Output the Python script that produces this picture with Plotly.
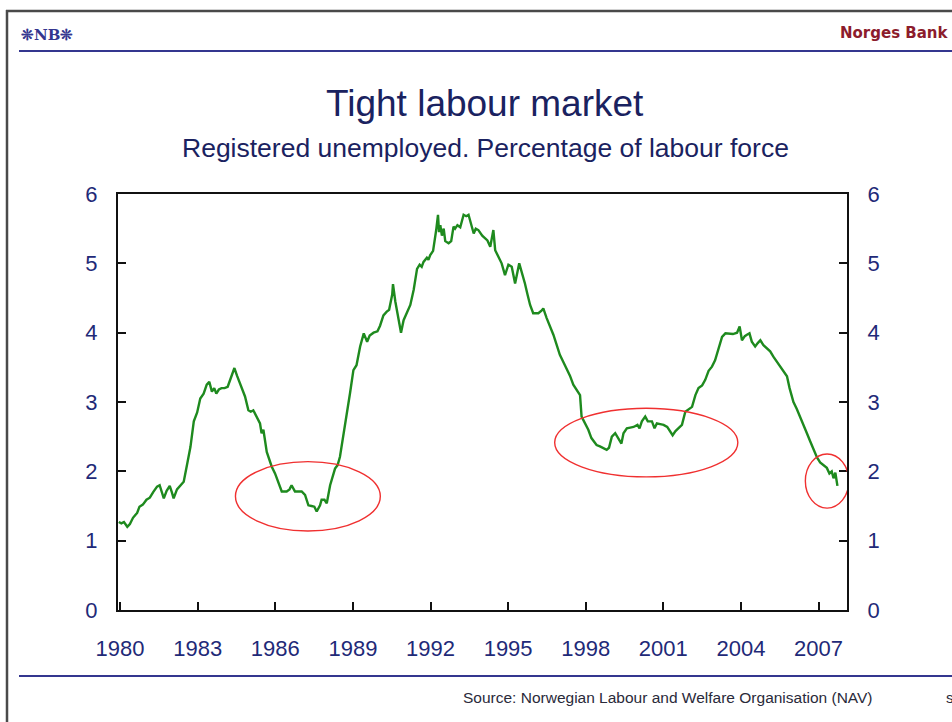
"""
Tight labour market: registered unemployed, share of labour force (Norway).
"""
import plotly.graph_objects as go

# ── data (decimal year, percent) ──────────────────────────────────────────────
YEARS = [
    1979.95, 1980.05, 1980.15, 1980.28, 1980.38, 1980.50, 1980.59, 1980.66, 1980.75, 1980.88,
    1981.02, 1981.15, 1981.28, 1981.43, 1981.53, 1981.62, 1981.69, 1981.80, 1981.92, 1982.00,
    1982.07, 1982.20, 1982.33, 1982.46, 1982.59, 1982.72, 1982.85, 1982.98, 1983.10, 1983.23,
    1983.35, 1983.45, 1983.55, 1983.64, 1983.72, 1983.82, 1983.92, 1984.04, 1984.16, 1984.28,
    1984.42, 1984.52, 1984.65, 1984.83, 1984.96, 1985.05, 1985.15, 1985.28, 1985.41, 1985.47,
    1985.54, 1985.67, 1985.86, 1985.99, 1986.12, 1986.25, 1986.44, 1986.55, 1986.63, 1986.76,
    1986.90, 1987.02, 1987.15, 1987.28, 1987.40, 1987.51, 1987.60, 1987.73, 1987.79, 1987.90,
    1987.99, 1988.12, 1988.31, 1988.41, 1988.50, 1988.63, 1988.76, 1988.89, 1989.02, 1989.14,
    1989.28, 1989.42, 1989.55, 1989.65, 1989.80, 1989.95, 1990.05, 1990.18, 1990.30, 1990.40,
    1990.52, 1990.55, 1990.64, 1990.77, 1990.86, 1990.96, 1991.09, 1991.22, 1991.35, 1991.48,
    1991.58, 1991.66, 1991.73, 1991.86, 1991.92, 1991.99, 1992.10, 1992.15, 1992.22, 1992.29,
    1992.33, 1992.38, 1992.44, 1992.51, 1992.57, 1992.70, 1992.80, 1992.89, 1992.95, 1993.04,
    1993.15, 1993.28, 1993.38, 1993.47, 1993.55, 1993.67, 1993.75, 1993.85, 1994.00, 1994.05,
    1994.20, 1994.31, 1994.43, 1994.50, 1994.62, 1994.75, 1994.88, 1995.01, 1995.14, 1995.27,
    1995.43, 1995.55, 1995.65, 1995.75, 1995.85, 1995.97, 1996.17, 1996.30, 1996.36, 1996.49,
    1996.62, 1996.75, 1996.88, 1997.00, 1997.13, 1997.26, 1997.39, 1997.52, 1997.65, 1997.78,
    1997.84, 1997.97, 1998.10, 1998.22, 1998.33, 1998.42, 1998.55, 1998.69, 1998.81, 1998.90,
    1999.01, 1999.14, 1999.26, 1999.38, 1999.46, 1999.59, 1999.72, 1999.85, 2000.00, 2000.08,
    2000.17, 2000.30, 2000.40, 2000.56, 2000.66, 2000.75, 2000.88, 2001.01, 2001.15, 2001.27,
    2001.36, 2001.47, 2001.59, 2001.72, 2001.85, 2001.98, 2002.11, 2002.24, 2002.36, 2002.50,
    2002.62, 2002.75, 2002.88, 2003.00, 2003.13, 2003.27, 2003.40, 2003.55, 2003.69, 2003.85,
    2003.95, 2004.04, 2004.15, 2004.23, 2004.33, 2004.42, 2004.55, 2004.65, 2004.75, 2004.87,
    2005.00, 2005.13, 2005.26, 2005.39, 2005.52, 2005.65, 2005.78, 2005.88, 2006.03, 2006.16,
    2006.29, 2006.42, 2006.55, 2006.68, 2006.81, 2006.94, 2007.06, 2007.20, 2007.32, 2007.42,
    2007.51, 2007.58, 2007.65, 2007.73,
]
UNEMPLOYED = [
    1.27, 1.25, 1.27, 1.20, 1.24, 1.33, 1.37, 1.40, 1.49, 1.52,
    1.59, 1.62, 1.70, 1.78, 1.80, 1.70, 1.61, 1.72, 1.79, 1.70,
    1.61, 1.74, 1.80, 1.85, 2.10, 2.35, 2.72, 2.85, 3.05, 3.12,
    3.25, 3.29, 3.15, 3.20, 3.12, 3.18, 3.20, 3.20, 3.22, 3.36,
    3.49, 3.38, 3.25, 3.08, 2.88, 2.86, 2.88, 2.79, 2.69, 2.55,
    2.60, 2.28, 2.07, 1.97, 1.83, 1.71, 1.71, 1.74, 1.80, 1.71,
    1.71, 1.71, 1.66, 1.51, 1.50, 1.49, 1.42, 1.51, 1.59, 1.59,
    1.54, 1.80, 2.04, 2.09, 2.21, 2.50, 2.79, 3.13, 3.46, 3.53,
    3.80, 3.99, 3.87, 3.96, 4.00, 4.02, 4.10, 4.25, 4.30, 4.33,
    4.55, 4.70, 4.45, 4.18, 4.00, 4.18, 4.30, 4.40, 4.62, 4.92,
    4.98, 4.95, 5.02, 5.08, 5.05, 5.12, 5.18, 5.29, 5.48, 5.70,
    5.45, 5.55, 5.40, 5.50, 5.32, 5.29, 5.32, 5.53, 5.50, 5.55,
    5.52, 5.70, 5.68, 5.70, 5.60, 5.43, 5.50, 5.48, 5.40, 5.38,
    5.33, 5.24, 5.48, 5.19, 5.10, 5.00, 4.83, 4.98, 4.95, 4.71,
    5.00, 4.85, 4.71, 4.55, 4.40, 4.28, 4.28, 4.32, 4.35, 4.21,
    4.10, 3.97, 3.82, 3.68, 3.58, 3.49, 3.38, 3.25, 3.18, 3.10,
    2.79, 2.70, 2.60, 2.48, 2.42, 2.38, 2.36, 2.33, 2.31, 2.34,
    2.50, 2.55, 2.48, 2.40, 2.55, 2.62, 2.63, 2.64, 2.67, 2.62,
    2.72, 2.79, 2.72, 2.72, 2.62, 2.69, 2.68, 2.67, 2.64, 2.57,
    2.52, 2.58, 2.62, 2.67, 2.86, 2.90, 2.93, 3.10, 3.20, 3.24,
    3.32, 3.45, 3.51, 3.60, 3.75, 3.94, 3.99, 3.99, 3.98, 4.00,
    4.09, 3.89, 3.95, 3.97, 3.99, 3.87, 3.80, 3.85, 3.89, 3.82,
    3.78, 3.73, 3.65, 3.58, 3.50, 3.44, 3.37, 3.20, 3.00, 2.90,
    2.79, 2.68, 2.55, 2.43, 2.31, 2.20, 2.13, 2.08, 2.05, 1.97,
    2.00, 1.90, 1.98, 1.79,
]

X_TICKS = [1980, 1983, 1986, 1989, 1992, 1995, 1998, 2001, 2004, 2007]
Y_TICKS = [0, 1, 2, 3, 4, 5, 6]

# highlighted periods: (x0, x1, y0, y1)
ELLIPSES = [
    (1984.46, 1990.06, 1.14, 2.14),
    (1996.80, 2003.88, 1.92, 2.91),
    (2006.49, 2008.17, 1.47, 2.25),
]

# ── styling ───────────────────────────────────────────────────────────────────
FONT = "Arial, 'Liberation Sans', sans-serif"
NAVY = "#1F2A78"
LINE_GREEN = "#1E8A1E"
RULE_BLUE = "#34368F"

# plot area in page pixels
L, R, T, B = 118, 847, 194, 610


def px(x):
    return (x - L) / (R - L)


def py(y):
    return (B - y) / (B - T)


fig = go.Figure()
fig.add_trace(go.Scatter(
    x=YEARS, y=UNEMPLOYED, mode="lines",
    line=dict(color=LINE_GREEN, width=2.4),
    hoverinfo="x+y",
))
# invisible trace so the right-hand axis is drawn
fig.add_trace(go.Scatter(x=[YEARS[0]], y=[UNEMPLOYED[0]], yaxis="y2",
                         mode="lines", line=dict(width=0), hoverinfo="skip"))

for x0, x1, y0, y1 in ELLIPSES:
    fig.add_shape(type="circle", xref="x", yref="y", x0=x0, x1=x1, y0=y0, y1=y1,
                  line=dict(color="#F03030", width=1.4))

axis_common = dict(
    showline=True, linecolor="#111", linewidth=2, showgrid=False, zeroline=False,
    ticks="inside", ticklen=8, tickwidth=2, tickcolor="#111",
    tickfont=dict(size=22, color=NAVY, family=FONT),
)

fig.update_layout(
    width=952, height=722,
    paper_bgcolor="white", plot_bgcolor="white",
    margin=dict(l=L, r=952 - R, t=T, b=722 - B),
    showlegend=False,
    font=dict(family=FONT),
    xaxis=dict(**axis_common, range=[1979.92, 2008.1], tickvals=X_TICKS,
               mirror=True, ticklabelstandoff=18),
    yaxis=dict(**axis_common, range=[0, 6], tickvals=Y_TICKS, ticklabelstandoff=14),
    yaxis2=dict(**axis_common, range=[0, 6], tickvals=Y_TICKS, overlaying="y",
                side="right", ticklabelstandoff=14),
)

# slide furniture
fig.add_shape(type="line", xref="paper", yref="paper", x0=px(6), x1=px(952),
              y0=py(11), y1=py(11), line=dict(color="#4A4A4A", width=2.5))
fig.add_shape(type="line", xref="paper", yref="paper", x0=px(7), x1=px(7),
              y0=py(10), y1=py(722), line=dict(color="#4A4A4A", width=2.5))
for ypix in (51, 676):
    fig.add_shape(type="line", xref="paper", yref="paper", x0=px(19), x1=px(952),
                  y0=py(ypix), y1=py(ypix), line=dict(color=RULE_BLUE, width=2))


def page_text(text, x, y, size, color, anchor="center", weight="normal", family=FONT):
    fig.add_annotation(text=text, xref="paper", yref="paper", x=px(x), y=py(y),
                       xanchor=anchor, yanchor="middle", showarrow=False,
                       font=dict(size=size, color=color, family=family, weight=weight))


page_text("❊NB❊", 19, 35, 15, RULE_BLUE, anchor="left", weight="bold",
          family="'DejaVu Serif', serif")
page_text("Norges Bank", 951, 33, 15, "#8C1C2C", anchor="right", weight="bold",
          family="'DejaVu Sans', sans-serif")
page_text("Tight labour market", 485, 103, 37, "#1A2260")
page_text("Registered unemployed. Percentage of labour force", 485, 148, 26.5, "#1A2260")
page_text("Source: Norwegian Labour and Welfare Organisation (NAV)", 668, 697, 15.5, "#2A2A3A")
page_text("s", 944, 697, 15, "#2A2A3A", anchor="left")

# page body has a default margin; drop it so the figure fills the window
fig.write_html("out.html", config={"displayModeBar": False},
               post_script="document.body.style.margin='0';")
